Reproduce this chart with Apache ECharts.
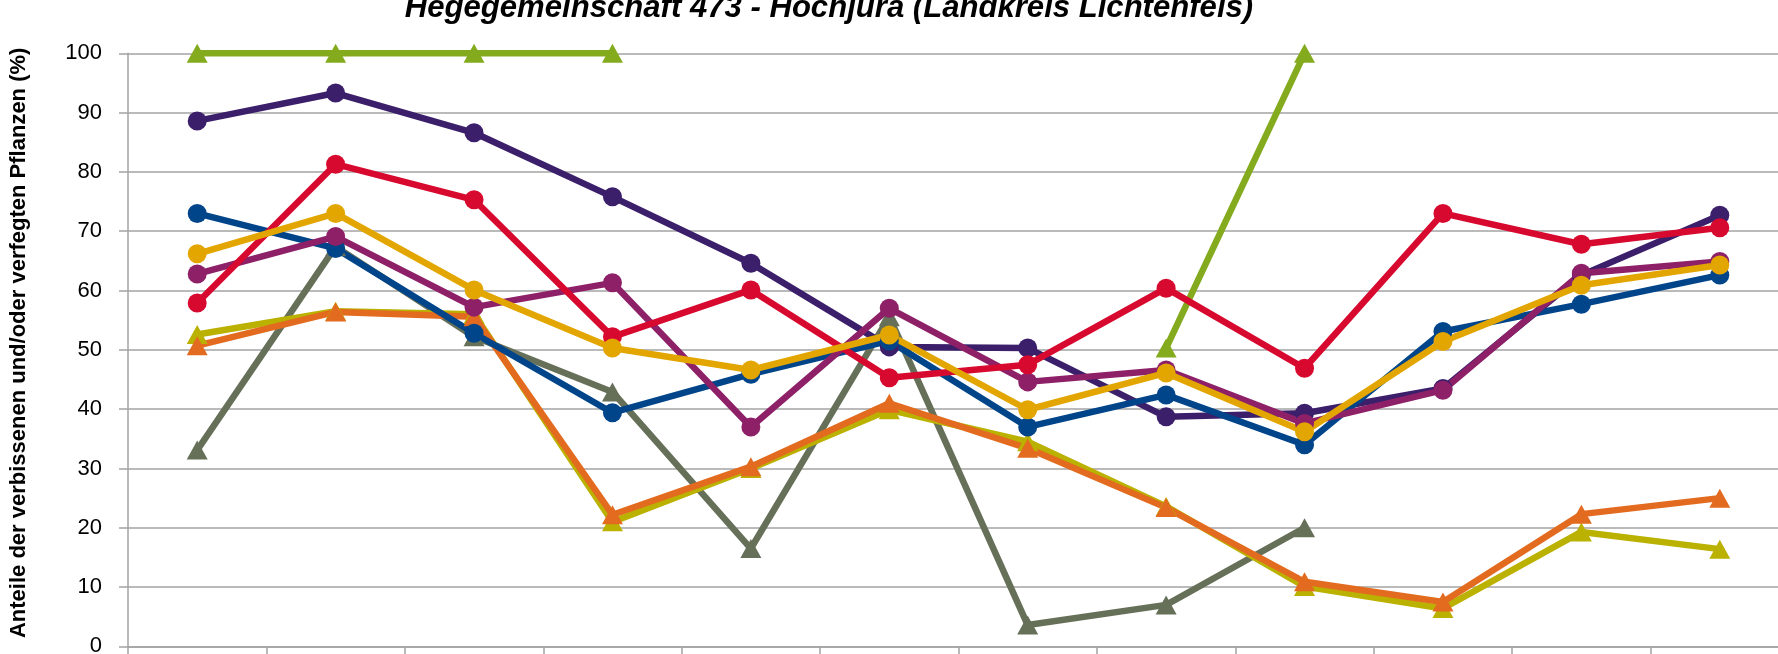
<!DOCTYPE html>
<html>
<head>
<meta charset="utf-8">
<script src="https://cdn.jsdelivr.net/npm/echarts@6/dist/echarts.min.js"></script>
<style>
html,body{margin:0;padding:0;background:#fff;}
#chart{width:1778px;height:654px;}
</style>
</head>
<body>
<div id="chart"></div>
<script>
// ---- data ----
const titleText = "Hegegemeinschaft 473 - Hochjura (Landkreis Lichtenfels)";
const yAxisTitle = "Anteile der verbissenen und/oder verfegten Pflanzen (%)";
const categories = ["1","2","3","4","5","6","7","8","9","10","11","12"]; // x labels are cut off in the reference
const yTicks = [0,10,20,30,40,50,60,70,80,90,100];

const seriesGray   = [33.1, 67.4, 52.2, 42.9, 16.5, 55.6, 3.6, 7.0, 20.0, null, null, null];
const seriesGreen  = [100, 100, 100, 100, null, null, null, 50.3, 100, null, null, null];
const seriesOlive  = [52.6, 56.5, 56.0, 21.0, 30.0, 39.9, 34.5, 23.6, 10.1, 6.4, 19.3, 16.4];
const seriesOrange = [50.7, 56.4, 55.6, 22.2, 30.3, 41.0, 33.4, 23.4, 10.9, 7.5, 22.3, 25.0];
const seriesDarkPurple = [88.6, 93.3, 86.6, 75.8, 64.6, 50.5, 50.3, 38.7, 39.3, 43.5, 62.6, 72.7];
const seriesBlue   = [73.0, 67.1, 52.8, 39.4, 45.9, 51.5, 37.0, 42.4, 34.0, 53.1, 57.7, 62.6];
const seriesMagenta= [62.8, 69.1, 57.2, 61.3, 37.0, 57.0, 44.6, 46.6, 37.6, 43.2, 62.9, 64.9];
const seriesRed    = [57.9, 81.3, 75.3, 52.2, 60.1, 45.3, 47.5, 60.4, 46.9, 73.0, 67.8, 70.6];
const seriesYellow = [66.2, 73.0, 60.1, 50.3, 46.6, 52.5, 39.9, 46.1, 36.2, 51.4, 60.9, 64.3];

// ---- styling ----
const gridColor = '#a3a3a3';
const lw = 6.5;
function lineSeries(name, data, color, symbol) {
  const tri = symbol === 'triangle';
  return {
    name: name, type: 'line', data: data,
    symbol: symbol, symbolSize: tri ? [21, 19] : 19,
    showSymbol: true, connectNulls: false, animation: false,
    lineStyle: { color: color, width: lw, join: 'round', cap: 'round' },
    itemStyle: { color: color, borderWidth: 0 },
    emphasis: { disabled: true }
  };
}

const chart = echarts.init(document.getElementById('chart'), null, { renderer: 'canvas' });
chart.setOption({
  backgroundColor: '#ffffff',
  animation: false,
  title: {
    text: titleText,
    left: 824, top: -12, textAlign: 'center',
    textStyle: { fontFamily: 'Liberation Sans', fontWeight: 'bold', fontStyle: 'italic', fontSize: 31.1, color: '#000' }
  },
  grid: { left: 128, top: 53.3, width: 1661, height: 593.1, containLabel: false, outerBoundsMode: 'none' },
  xAxis: {
    type: 'category', data: categories, boundaryGap: true,
    axisLine: { show: true, lineStyle: { color: gridColor, width: 1.5 } },
    axisTick: { show: true, length: 10, lineStyle: { color: gridColor, width: 1.5 } },
    axisLabel: { show: false },
    splitLine: { show: false }
  },
  yAxis: {
    type: 'value', min: yTicks[0], max: yTicks[yTicks.length - 1], interval: 10,
    name: yAxisTitle, nameLocation: 'middle', nameRotate: 90, nameGap: 98,
    nameTextStyle: { fontFamily: 'Liberation Sans', fontWeight: 'bold', fontSize: 22, color: '#000', padding: [0, 0, 0, 14] },
    axisLine: { show: true, lineStyle: { color: gridColor, width: 1.5 } },
    axisTick: { show: true, length: 9, inside: false, lineStyle: { color: gridColor, width: 1.5 } },
    axisLabel: { margin: 26, fontFamily: 'Liberation Sans', fontSize: 22, color: '#000' },
    splitLine: { show: true, lineStyle: { color: gridColor, width: 1.5 } }
  },
  series: [
    lineSeries('Reihe Grau', seriesGray, '#667059', 'triangle'),
    lineSeries('Reihe Grün', seriesGreen, '#84ab1e', 'triangle'),
    lineSeries('Reihe Oliv', seriesOlive, '#bab100', 'triangle'),
    lineSeries('Reihe Orange', seriesOrange, '#e36b1f', 'triangle'),
    lineSeries('Reihe Dunkelviolett', seriesDarkPurple, '#3c1f6b', 'circle'),
    lineSeries('Reihe Blau', seriesBlue, '#00448a', 'circle'),
    lineSeries('Reihe Magenta', seriesMagenta, '#8e2068', 'circle'),
    lineSeries('Reihe Rot', seriesRed, '#d8092f', 'circle'),
    lineSeries('Reihe Gelb', seriesYellow, '#e3a600', 'circle')
  ]
});
</script>
</body>
</html>
